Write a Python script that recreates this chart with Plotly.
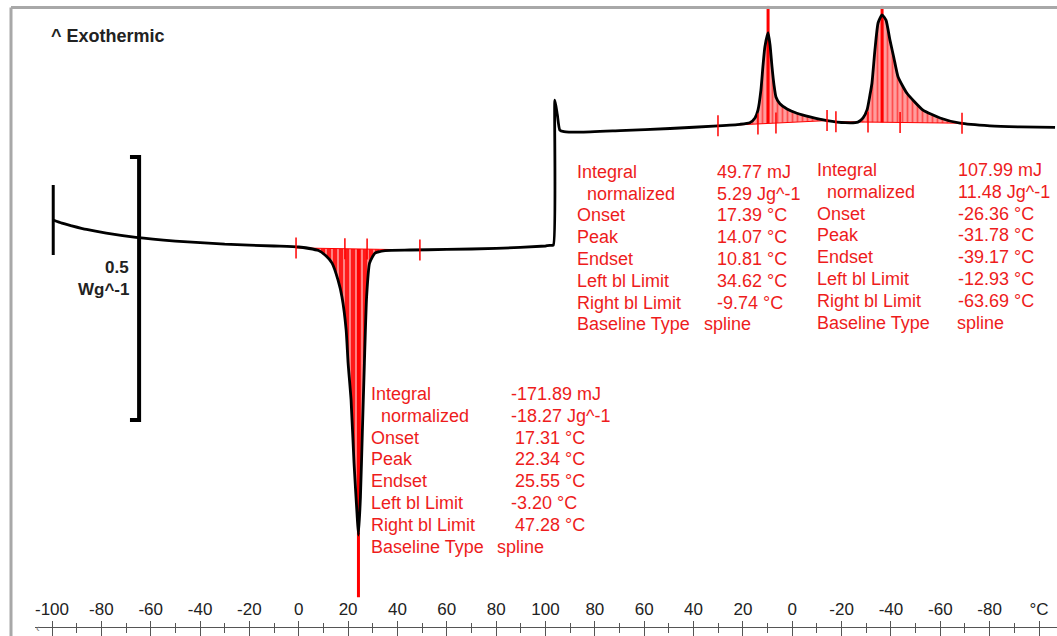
import numpy as np
import plotly.graph_objects as go

# ---------------- data ----------------
# Heating segment: -100 -> 100 °C ; heat flow in W/g (exothermic up)
heat_T = [-99.5, -96.0, -92.0, -86.0, -78.0, -66.0, -50.0, -30.0, -10.0, 0.0, 8.0, 11.0,
          13.5, 15.9, 17.5, 19.2, 20.0, 21.2, 22.4, 23.6, 24.2, 25.0, 25.8, 26.6, 27.5,
          28.7, 30.9, 35.0, 45.0, 60.0, 80.0, 100.0]
heat_hf = [0.057, 0.051, 0.046, 0.039, 0.032, 0.024, 0.017, 0.011, 0.0076, 0.0057, -0.001, -0.011,
           -0.025, -0.057, -0.089, -0.152, -0.215, -0.285, -0.405, -0.500, -0.542, -0.470, -0.342, -0.215, -0.089,
           -0.025, -0.006, -0.001, 0.000, 0.001, 0.003, 0.0076]

# Cooling segment: 100 -> -100 °C
cool_T = [98.2, 96.8, 96.2, 95.2, 94.2, 92.5, 86.0, 69.8, 49.5, 30.1, 21.2, 17.2, 15.1, 13.9,
          12.7, 11.9, 11.1, 9.8, 9.0, 8.2, 7.4, 6.6, 5.0, 2.1, -1.9, -7.2, -14.1, -21.4,
          -26.6, -28.7, -30.3, -31.5, -32.3, -33.5, -34.8, -36.4, -38.0, -39.6, -41.2, -42.9,
          -46.5, -53.0, -59.9, -68.0, -80.1, -92.3, -106.5]
cool_hf = [0.0086, 0.0095, 0.285, 0.257, 0.228, 0.225, 0.224, 0.227, 0.231, 0.236, 0.239, 0.242, 0.251, 0.266,
           0.304, 0.348, 0.386, 0.413, 0.390, 0.348, 0.314, 0.291, 0.278, 0.268, 0.260, 0.253, 0.246, 0.242,
           0.243, 0.251, 0.266, 0.295, 0.317, 0.380, 0.432, 0.447, 0.437, 0.399, 0.365, 0.329,
           0.298, 0.266, 0.251, 0.241, 0.236, 0.234, 0.233]

# Peak evaluations: segment, left bl limit, right bl limit, onset, endset, peak, baseline hf (left, right)
peak_segment = ["heat", "cool", "cool"]
peak_left_T = [-1.1, 30.1, -17.7]
peak_right_T = [49.1, -14.1, -68.8]
peak_onset_T = [18.7, 13.9, -30.7]
peak_endset_T = [27.7, 6.6, -43.7]
peak_T = [24.2, 9.8, -36.4]
peak_base_left = [0.004, 0.236, 0.244]
peak_base_right = [0.000, 0.246, 0.241]
peak_marker_end = [-0.660, 0.464, 0.464]

# Result tables
row_labels = ["Integral", "normalized", "Onset", "Peak", "Endset", "Left bl Limit", "Right bl Limit", "Baseline Type"]
vals_endo = ["-171.89 mJ", "-18.27 Jg^-1", "17.31 °C", "22.34 °C", "25.55 °C", "-3.20 °C", "47.28 °C", "spline"]
vals_exo1 = ["49.77 mJ", "5.29 Jg^-1", "17.39 °C", "14.07 °C", "10.81 °C", "34.62 °C", "-9.74 °C", "spline"]
vals_exo2 = ["107.99 mJ", "11.48 Jg^-1", "-26.36 °C", "-31.78 °C", "-39.17 °C", "-12.93 °C", "-63.69 °C", "spline"]

# Axis tick labels (heating then cooling)
tick_heat = [-100, -80, -60, -40, -20, 0, 20, 40, 60, 80, 100]
tick_cool = [80, 60, 40, 20, 0, -20, -40, -60, -80]
unit_label = "°C"

scale_bar_wg = 0.5
scale_bar_bottom = -0.323
scale_bar_T = -64.7

# ---------------- layout helpers ----------------
W, H = 1057, 636
FONT = "Liberation Sans, Arial, sans-serif"
RED = "#ee1c1c"


def pos(seg, T):
    T = np.asarray(T, dtype=float)
    return T if seg == "heat" else 200.0 - T


def px(x):
    return x / W


def py(y):
    return 1 - y / H


heat_p = pos("heat", heat_T)
cool_p = pos("cool", cool_T)
all_p = np.concatenate([heat_p, cool_p])
all_hf = np.concatenate([heat_hf, cool_hf])

fig = go.Figure()

# integration fills
for i, seg in enumerate(peak_segment):
    p_l = float(pos(seg, peak_left_T[i]))
    p_r = float(pos(seg, peak_right_T[i]))
    sp = heat_p if seg == "heat" else cool_p
    shf = np.asarray(heat_hf if seg == "heat" else cool_hf)
    m = (sp > p_l) & (sp < p_r)
    cx = [p_l] + list(sp[m]) + [p_r]
    cy = [peak_base_left[i]] + list(shf[m]) + [peak_base_right[i]]
    fig.add_trace(go.Scatter(x=[p_l, p_r], y=[peak_base_left[i], peak_base_right[i]], mode="lines",
                             line=dict(color="red", width=1), hoverinfo="skip", showlegend=False))
    if seg == "heat":
        patt = dict(shape="|", size=6, solidity=0.3, bgcolor="#ff1a1a", fgcolor="white")
        fc = "#ff1a1a"
    else:
        patt = dict(shape="|", size=5, solidity=0.35, bgcolor="rgba(255,60,60,0.5)", fgcolor="#ff0000")
        fc = "rgba(255,60,60,0.5)"
    fig.add_trace(go.Scatter(x=cx, y=cy, mode="lines", line=dict(width=0, shape="spline", smoothing=0.6),
                             fill="tonexty", fillcolor=fc, fillpattern=patt,
                             hoverinfo="skip", showlegend=False))

# peak marker lines
for i, seg in enumerate(peak_segment):
    pp = float(pos(seg, peak_T[i]))
    base = (peak_base_left[i] + peak_base_right[i]) / 2
    fig.add_trace(go.Scatter(x=[pp, pp], y=[base, peak_marker_end[i]], mode="lines",
                             line=dict(color="red", width=3), hoverinfo="skip", showlegend=False))

# main curve
fig.add_trace(go.Scatter(x=all_p, y=all_hf, mode="lines",
                         line=dict(color="black", width=2.8, shape="spline", smoothing=0.5),
                         hoverinfo="skip", showlegend=False))
# segment start marker
fig.add_trace(go.Scatter(x=[heat_p[0]], y=[heat_hf[0]], mode="markers",
                         marker=dict(symbol="line-ns", size=50, line=dict(color="black", width=3)),
                         hoverinfo="skip", showlegend=False))

# limit / onset / endset markers
mx, my = [], []
for i, seg in enumerate(peak_segment):
    p_l = float(pos(seg, peak_left_T[i]))
    p_r = float(pos(seg, peak_right_T[i]))
    for T in [peak_left_T[i], peak_onset_T[i], peak_endset_T[i], peak_right_T[i]]:
        pp = float(pos(seg, T))
        mx.append(pp)
        my.append(float(np.interp(pp, [p_l, p_r], [peak_base_left[i], peak_base_right[i]])))
fig.add_trace(go.Scatter(x=mx, y=my, mode="markers",
                         marker=dict(symbol="line-ns", size=15, line=dict(color="red", width=1.5)),
                         hoverinfo="skip", showlegend=False))

# dummy trace for the second (tick) axis
fig.add_trace(go.Scatter(x=[], y=[], xaxis="x2", yaxis="y", showlegend=False))

# scale bar (0.5 W/g)
cap = 3.7
sb_top = scale_bar_bottom + scale_bar_wg
fig.add_shape(type="path", xref="x", yref="y",
              path=f"M {scale_bar_T - cap},{sb_top} L {scale_bar_T},{sb_top} L {scale_bar_T},{scale_bar_bottom} L {scale_bar_T - cap},{scale_bar_bottom}",
              line=dict(color="black", width=4))

# frame (gray top and left border)
fig.add_shape(type="line", xref="paper", yref="paper", x0=px(11), x1=1.0, y0=py(7.5), y1=py(7.5),
              line=dict(color="#a8a8a8", width=3))
fig.add_shape(type="line", xref="paper", yref="paper", x0=px(11), x1=px(11), y0=py(7.5), y1=0,
              line=dict(color="#a8a8a8", width=3))

ann = []
ann.append(dict(text="<b>^ Exothermic</b>", x=px(50), y=py(36), xanchor="left", yanchor="middle",
                font=dict(family=FONT, size=18, color="#222")))
ann.append(dict(text="<b>0.5</b>", x=px(130), y=py(267), xanchor="right", yanchor="middle",
                font=dict(family=FONT, size=17, color="#222")))
ann.append(dict(text="<b>Wg^-1</b>", x=px(130), y=py(289), xanchor="right", yanchor="middle",
                font=dict(family=FONT, size=17, color="#222")))
ann.append(dict(text="‹", x=px(38), y=py(628), xanchor="center", yanchor="middle",
                font=dict(family=FONT, size=11, color="#777")))


def block(x_lab, x_val, y0, vals, x_spline, indent=10, signpad=False):
    for r, lab in enumerate(row_labels):
        yy = y0 + r * 21.8
        xl = x_lab + (indent if lab == "normalized" else 0)
        ann.append(dict(text=lab, x=px(xl), y=py(yy), xanchor="left", yanchor="middle",
                        font=dict(family=FONT, size=18, color=RED)))
        v = vals[r]
        if lab == "Baseline Type":
            xv = x_spline
        elif signpad and not v.startswith("-"):
            xv = x_val + 4.5
        else:
            xv = x_val
        ann.append(dict(text=v, x=px(xv), y=py(yy), xanchor="left", yanchor="middle",
                        font=dict(family=FONT, size=18, color=RED)))


block(370, 509.5, 394, vals_endo, 496, signpad=True)
block(576, 716, 171.7, vals_exo1, 703)
block(816, 956.5, 170, vals_exo2, 956)

for a in ann:
    a.update(xref="paper", yref="paper", showarrow=False, borderpad=0)

# ticks
tickvals = [float(pos("heat", t)) for t in tick_heat] + [float(pos("cool", t)) for t in tick_cool] + [300.0]
ticktext = [str(t) for t in tick_heat] + [str(t) for t in tick_cool] + [unit_label]
minorvals = [v + 10 for v in tickvals[:-1]]

x_r0 = -100 - 17 / 2.4675
x_r1 = x_r0 + 1022 / 2.4675
k = 0.5 / 263.0
y_r1 = 250 * k
y_r0 = -386 * k
axis_pos = 1 - 627.3 / H

fig.update_layout(
    width=W, height=H, margin=dict(l=0, r=0, t=0, b=0),
    paper_bgcolor="white", plot_bgcolor="white", showlegend=False,
    annotations=ann,
    xaxis=dict(domain=[35 / W, 1], range=[x_r0, x_r1], anchor="free", position=axis_pos, side="top",
               showline=True, linecolor="#555", linewidth=1, showgrid=False, zeroline=False,
               tickmode="array", tickvals=tickvals, ticktext=ticktext, ticks="outside", ticklen=6,
               tickwidth=1, tickcolor="#555", tickfont=dict(family=FONT, size=17, color="#222"),
               minor=dict(tickmode="array", tickvals=minorvals, ticks="outside", ticklen=4,
                          tickwidth=1, tickcolor="#555", showgrid=False)),
    xaxis2=dict(overlaying="x", range=[x_r0, x_r1], anchor="free", position=axis_pos, side="top",
                showline=False, showgrid=False, zeroline=False, showticklabels=False,
                tickmode="array", tickvals=tickvals, ticks="inside", ticklen=8, tickwidth=1, tickcolor="#555",
                minor=dict(tickmode="array", tickvals=minorvals, ticks="inside", ticklen=5,
                           tickwidth=1, tickcolor="#555", showgrid=False)),
    yaxis=dict(domain=[0, 1], range=[y_r0, y_r1], visible=False, showgrid=False, zeroline=False),
)

fig.write_html("out.html", config={"displayModeBar": False},
               post_script="document.body.style.margin='0';document.body.style.overflow='hidden';")
